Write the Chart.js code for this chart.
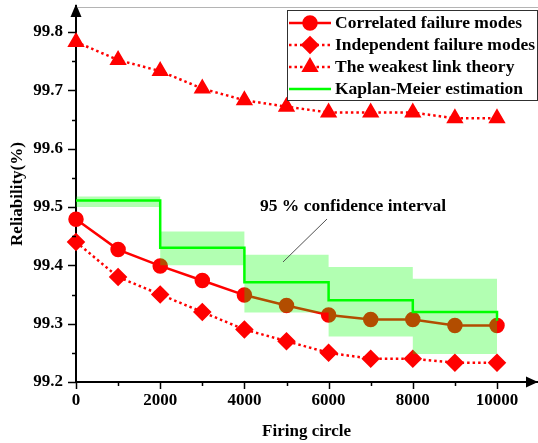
<!DOCTYPE html>
<html>
<head>
<meta charset="utf-8">
<script src="https://cdn.jsdelivr.net/npm/chart.js@4/dist/chart.umd.min.js"></script>
<style>
html,body{margin:0;padding:0;background:#fff}
</style>
</head>
<body>
<canvas id="chart" width="538" height="443"></canvas>
<script>
const cycles = [0, 1000, 2000, 3000, 4000, 5000, 6000, 7000, 8000, 9000, 10000]
const correlated = [99.479, 99.427, 99.399, 99.374, 99.349, 99.331, 99.315, 99.307, 99.307, 99.297, 99.297]
const independent = [99.44, 99.38, 99.35, 99.32, 99.29, 99.27, 99.25, 99.24, 99.24, 99.233, 99.233]
const weakest = [99.783, 99.752, 99.733, 99.703, 99.683, 99.672, 99.662, 99.662, 99.662, 99.652, 99.652]

// Kaplan-Meier steps and the 95 % band around them
const kmTimes = [0, 2000, 4000, 6000, 8000, 10000]
const kmValues = [99.511, 99.43, 99.371, 99.34, 99.32, 99.305]
const ciUpper = [99.518, 99.458, 99.418, 99.397, 99.377, 99.377]
const ciLower = [99.5, 99.40, 99.319, 99.278, 99.248, 99.248]

const xTicks = [0, 2000, 4000, 6000, 8000, 10000]
const yTicks = [99.2, 99.3, 99.4, 99.5, 99.6, 99.7, 99.8]

const serif = "'Liberation Serif', 'Times New Roman', serif"
const red = '#ff0000'
const green = '#00ff00'

const pts = (xs, ys) => xs.map((x, i) => ({x: x, y: ys[i]}))

// ticks, arrows, titles, legend and the band label
const extras = {
    id: 'extras',
    afterDraw(chart) {
        const {ctx, chartArea: a, scales: {x, y}} = chart
        ctx.save()

        // thin frame line along the top
        ctx.strokeStyle = '#b4b4b4'
        ctx.lineWidth = 1
        ctx.beginPath()
        ctx.moveTo(a.left + 2, 7.5)
        ctx.lineTo(538, 7.5)
        ctx.stroke()

        // tick marks, major and minor
        ctx.strokeStyle = '#000'
        ctx.lineWidth = 1.5
        for (let i = 0; i <= 12; i++) {
            const py = Math.round(y.getPixelForValue(99.2 + i * 0.05)) + 0.5
            const len = i % 2 == 0 ? 8 : 4
            ctx.beginPath()
            ctx.moveTo(a.left - len, py)
            ctx.lineTo(a.left, py)
            ctx.stroke()
        }
        for (let i = 0; i <= 10; i++) {
            const px = Math.round(x.getPixelForValue(i * 1000)) + 0.5
            const len = i % 2 == 0 ? 7 : 4
            ctx.beginPath()
            ctx.moveTo(px, a.bottom)
            ctx.lineTo(px, a.bottom + len)
            ctx.stroke()
        }

        // arrow heads
        ctx.fillStyle = '#000'
        ctx.beginPath()
        ctx.moveTo(a.left, 4)
        ctx.lineTo(a.left - 5.5, 17)
        ctx.lineTo(a.left + 5.5, 17)
        ctx.closePath()
        ctx.fill()
        ctx.beginPath()
        ctx.moveTo(538, a.bottom)
        ctx.lineTo(526, a.bottom - 5.5)
        ctx.lineTo(526, a.bottom + 5.5)
        ctx.closePath()
        ctx.fill()

        // axis titles
        ctx.font = 'bold 17px ' + serif
        ctx.textAlign = 'center'
        ctx.textBaseline = 'middle'
        ctx.fillText('Firing circle', (a.left + a.right) / 2, 432)
        ctx.save()
        ctx.translate(18, (a.top + a.bottom) / 2)
        ctx.rotate(-Math.PI / 2)
        ctx.fillText('Reliability(%)', 0, 0)
        ctx.restore()

        // band label with its leader line
        ctx.font = 'bold 17.5px ' + serif
        ctx.fillText('95 % confidence interval', 353, 206)
        ctx.strokeStyle = '#505050'
        ctx.lineWidth = 1
        ctx.beginPath()
        ctx.moveTo(327, 219)
        ctx.lineTo(283, 262)
        ctx.stroke()

        // legend
        const bx = 287.5, by = 10.5, bw = 250, bh = 90
        ctx.fillStyle = '#fff'
        ctx.fillRect(bx, by, bw, bh)
        ctx.strokeStyle = '#303030'
        ctx.strokeRect(bx, by, bw, bh)
        const rows = [3, 4, 5, 0]
        rows.forEach((di, r) => {
            const ds = chart.data.datasets[di]
            const ry = 23 + r * 22
            ctx.strokeStyle = ds.borderColor
            ctx.lineWidth = ds.borderWidth
            ctx.setLineDash(ds.borderDash || [])
            ctx.beginPath()
            ctx.moveTo(289, ry)
            ctx.lineTo(331, ry)
            ctx.stroke()
            ctx.setLineDash([])
            if (ds.pointRadius > 0) {
                ctx.fillStyle = ds.pointBackgroundColor
                ctx.strokeStyle = ds.pointBorderColor
                Chart.helpers.drawPoint(ctx, {pointStyle: ds.pointStyle, radius: ds.pointRadius, rotation: 0, borderWidth: 1}, 310, ry)
            }
            ctx.fillStyle = '#000'
            ctx.textAlign = 'left'
            ctx.fillText(ds.label, 335, ry)
        })
        ctx.restore()
    }
}

const chart = new Chart(document.getElementById('chart'), {
    type: 'line',
    data: {
        datasets: [
            {
                label: 'Kaplan-Meier estimation',
                data: pts(kmTimes, kmValues),
                borderColor: green,
                borderWidth: 2.5,
                stepped: true,
                pointRadius: 0,
                fill: false
            },
            {
                label: 'upper bound',
                data: pts(kmTimes, ciUpper),
                borderWidth: 0,
                pointRadius: 0,
                stepped: true,
                fill: '+1',
                backgroundColor: 'rgba(0,255,0,0.3)'
            },
            {
                label: 'lower bound',
                data: pts(kmTimes, ciLower),
                borderWidth: 0,
                pointRadius: 0,
                stepped: true,
                fill: false
            },
            {
                label: 'Correlated failure modes',
                data: pts(cycles, correlated),
                borderColor: red,
                borderWidth: 2.5,
                pointStyle: 'circle',
                pointRadius: 6.5,
                pointBackgroundColor: red,
                pointBorderColor: red,
                clip: false
            },
            {
                label: 'Independent failure modes',
                data: pts(cycles, independent),
                borderColor: red,
                borderWidth: 2.5,
                borderDash: [2.5, 3],
                pointStyle: 'rectRot',
                pointRadius: 7.5,
                pointBackgroundColor: red,
                pointBorderColor: red,
                clip: false
            },
            {
                label: 'The weakest link theory',
                data: pts(cycles, weakest),
                borderColor: red,
                borderWidth: 2.5,
                borderDash: [2.5, 3],
                pointStyle: 'triangle',
                pointRadius: 7.5,
                pointBackgroundColor: red,
                pointBorderColor: red,
                clip: false
            }
        ]
    },
    options: {
        responsive: false,
        animation: false,
        events: [],
        layout: {autoPadding: false, padding: {top: 6, right: 1, left: 0, bottom: 0}},
        plugins: {legend: {display: false}, tooltip: {enabled: false}},
        scales: {
            x: {
                type: 'linear',
                min: 0,
                max: 10950,
                grid: {display: false, drawTicks: false},
                border: {color: '#000', width: 2},
                afterBuildTicks: s => { s.ticks = xTicks.map(v => ({value: v})) },
                afterFit: s => {
                    s.height = 61
                    s.paddingLeft = 0
                    s.paddingRight = 0
                },
                ticks: {
                    color: '#000',
                    font: {family: serif, size: 17, weight: 'bold'},
                    padding: 8,
                    maxRotation: 0,
                    autoSkip: false,
                    callback: v => String(v)
                }
            },
            y: {
                min: 99.2,
                max: 99.8446,
                grid: {display: false, drawTicks: false},
                border: {color: '#000', width: 2},
                afterBuildTicks: s => { s.ticks = yTicks.map(v => ({value: v})) },
                afterFit: s => {
                    s.width = 76
                    s.paddingTop = 0
                    s.paddingBottom = 0
                },
                ticks: {
                    color: '#000',
                    font: {family: serif, size: 17, weight: 'bold'},
                    padding: 13,
                    callback: v => v.toFixed(1)
                }
            }
        }
    },
    plugins: [extras]
})
</script>
</body>
</html>
